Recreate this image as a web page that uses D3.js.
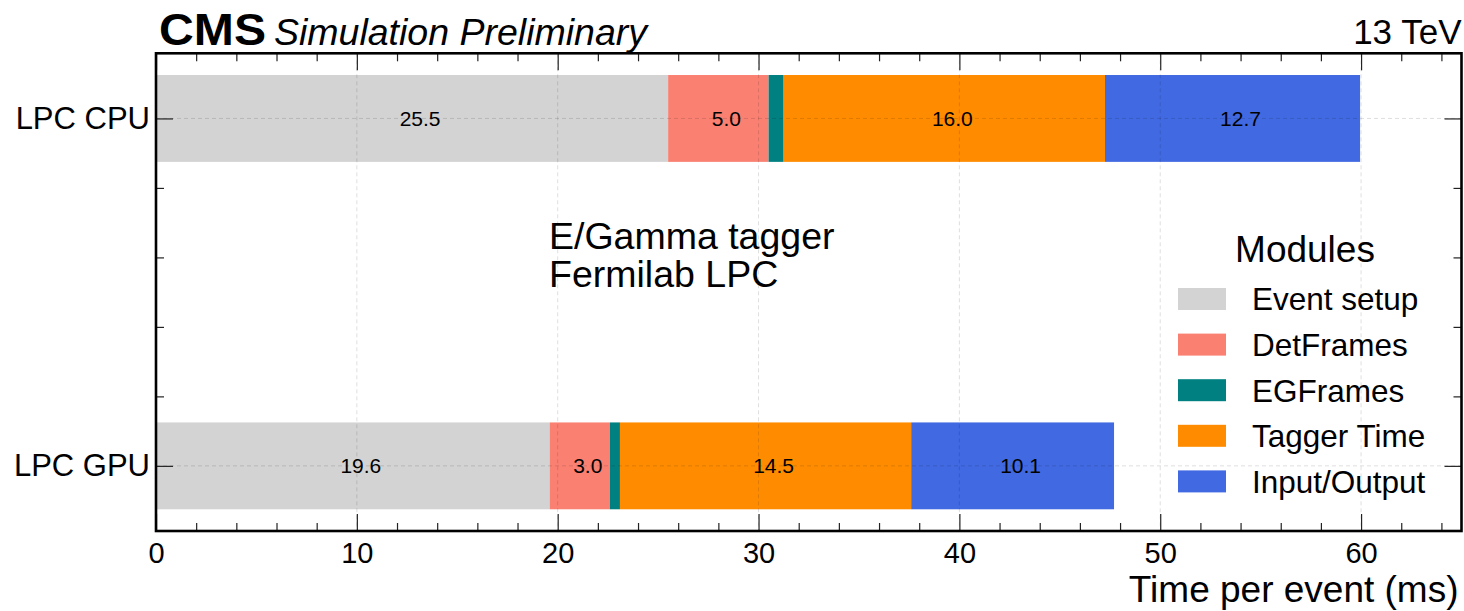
<!DOCTYPE html>
<html>
<head>
<meta charset="utf-8">
<script src="https://cdn.jsdelivr.net/npm/d3@7"></script>
<style>
  html, body { margin: 0; padding: 0; background: #fff; }
  svg { display: block; font-family: "Liberation Sans", Arial, Helvetica, sans-serif; }
</style>
</head>
<body>
<svg id="chart" width="1464" height="611"></svg>
<script>
// ---- data ----
const categories = ["LPC CPU", "LPC GPU"];          // top to bottom
const modules = ["Event setup", "DetFrames", "EGFrames", "Tagger Time", "Input/Output"];
const cpuValues = [25.5, 5.0, 0.75, 16.0, 12.7];
const gpuValues = [19.6, 3.0, 0.5, 14.5, 10.1];
const moduleColors = ["#d3d3d3", "#fa8072", "#008080", "#ff8c00", "#4169e1"];
const xMajorTicks = [0, 10, 20, 30, 40, 50, 60];
const xMinorTicks = d3.range(0, 66, 2);
const yMinorTicks = [0.2, 0.4, 0.6, 0.8];
const xTitle = "Time per event (ms)";
const annotation = ["E/Gamma tagger", "Fermilab LPC"];
const legendTitle = "Modules";

// ---- layout ----
const W = 1464, H = 611;
const m = { left: 156, right: 1461.5, top: 53.3, bottom: 531 };
const svg = d3.select("#chart");

const x = d3.scaleLinear().domain([0, 65]).range([m.left, m.right]);
// category position: bottom category at 0, top at 1 (matplotlib barh order)
const catPos = c => categories.length - 1 - categories.indexOf(c);
const y = d3.scaleLinear().domain([-0.1875, 1.1875]).range([m.bottom, m.top]);
const barH = 0.25;

const series = [
  { cat: "LPC CPU", values: cpuValues },
  { cat: "LPC GPU", values: gpuValues }
];

// ---- bars ----
const gBars = svg.append("g");
series.forEach(s => {
  let acc = 0;
  const segs = s.values.map((v, i) => { const seg = { x0: acc, x1: acc + v, v, i }; acc += v; return seg; });
  const p = catPos(s.cat);
  gBars.selectAll(null).data(segs).enter().append("rect")
    .attr("x", d => x(d.x0))
    .attr("width", d => x(d.x1) - x(d.x0))
    .attr("y", y(p + barH / 2))
    .attr("height", y(p - barH / 2) - y(p + barH / 2))
    .attr("fill", d => moduleColors[d.i]);
  gBars.selectAll(null).data(segs.filter(d => d.v >= 1)).enter().append("text")
    .attr("x", d => x((d.x0 + d.x1) / 2))
    .attr("dx", 8)
    .attr("y", y(p))
    .attr("dy", "0.35em")
    .attr("text-anchor", "middle")
    .attr("font-size", 21)
    .attr("fill", "#000")
    .text(d => d.v.toFixed(1));
});

// ---- grid (on top, faint dashed) ----
const gGrid = svg.append("g").attr("stroke", "#000").attr("stroke-opacity", 0.13)
  .attr("stroke-width", 1).attr("stroke-dasharray", "4,3");
gGrid.selectAll(null).data(xMajorTicks.filter(t => t > 0)).enter().append("line")
  .attr("x1", d => x(d)).attr("x2", d => x(d)).attr("y1", m.top).attr("y2", m.bottom);
gGrid.selectAll(null).data(categories).enter().append("line")
  .attr("x1", m.left).attr("x2", m.right).attr("y1", d => y(catPos(d))).attr("y2", d => y(catPos(d)));

// ---- axes ----
const MAJ = 17, MIN = 8;
function styleAxis(g) {
  g.select(".domain").remove();
  g.selectAll(".tick line").attr("stroke", "#222").attr("stroke-width", 1.2);
  g.selectAll(".tick text").attr("fill", "#000");
}
// bottom
svg.append("g").attr("transform", `translate(0,${m.bottom})`)
  .call(d3.axisBottom(x).tickValues(xMajorTicks).tickFormat(d3.format("d")).tickSize(-MAJ).tickPadding(11))
  .call(styleAxis).call(g => g.selectAll(".tick text").attr("font-size", 29));
svg.append("g").attr("transform", `translate(0,${m.bottom})`)
  .call(d3.axisBottom(x).tickValues(xMinorTicks.filter(t => t % 10 !== 0)).tickFormat("").tickSize(-MIN))
  .call(styleAxis);
// top
svg.append("g").attr("transform", `translate(0,${m.top})`)
  .call(d3.axisTop(x).tickValues(xMajorTicks).tickFormat("").tickSize(-MAJ))
  .call(styleAxis);
svg.append("g").attr("transform", `translate(0,${m.top})`)
  .call(d3.axisTop(x).tickValues(xMinorTicks.filter(t => t % 10 !== 0)).tickFormat("").tickSize(-MIN))
  .call(styleAxis);
// left
svg.append("g").attr("transform", `translate(${m.left},0)`)
  .call(d3.axisLeft(y).tickValues(categories.map(catPos))
    .tickFormat(p => categories[categories.length - 1 - p]).tickSize(-MAJ).tickPadding(6))
  .call(styleAxis).call(g => g.selectAll(".tick text").attr("font-size", 31));
svg.append("g").attr("transform", `translate(${m.left},0)`)
  .call(d3.axisLeft(y).tickValues(yMinorTicks).tickFormat("").tickSize(-MIN))
  .call(styleAxis);
// right
svg.append("g").attr("transform", `translate(${m.right},0)`)
  .call(d3.axisRight(y).tickValues(categories.map(catPos)).tickFormat("").tickSize(-MAJ))
  .call(styleAxis);
svg.append("g").attr("transform", `translate(${m.right},0)`)
  .call(d3.axisRight(y).tickValues(yMinorTicks).tickFormat("").tickSize(-MIN))
  .call(styleAxis);

// frame
svg.append("rect").attr("x", m.left).attr("y", m.top)
  .attr("width", m.right - m.left).attr("height", m.bottom - m.top)
  .attr("fill", "none").attr("stroke", "#000").attr("stroke-width", 2.6);

// ---- texts ----
svg.append("text").attr("x", m.right - 3).attr("y", 602).attr("text-anchor", "end")
  .attr("font-size", 37).text(xTitle);

svg.append("text").attr("x", 159).attr("y", 45).attr("font-size", 45).attr("font-weight", "bold")
  .attr("textLength", 107).attr("lengthAdjust", "spacingAndGlyphs").text("CMS");
svg.append("text").attr("x", 274).attr("y", 45).attr("font-size", 37.5).attr("font-style", "italic")
  .text("Simulation Preliminary");
svg.append("text").attr("x", m.right).attr("y", 44).attr("text-anchor", "end")
  .attr("font-size", 35).text("13 TeV");

svg.append("g").selectAll("text").data(annotation).enter().append("text")
  .attr("x", 549).attr("y", (d, i) => 249 + i * 38).attr("font-size", 37.5).text(d => d);

// ---- legend ----
const lg = svg.append("g");
lg.append("text").attr("x", 1305).attr("y", 262).attr("text-anchor", "middle")
  .attr("font-size", 37).text(legendTitle);
const rowY = i => 299 + i * 45.6;
lg.selectAll("rect").data(modules).enter().append("rect")
  .attr("x", 1178).attr("y", (d, i) => rowY(i) - 11).attr("width", 48).attr("height", 22)
  .attr("fill", (d, i) => moduleColors[i]);
lg.selectAll("text.item").data(modules).enter().append("text").attr("class", "item")
  .attr("x", 1252).attr("y", (d, i) => rowY(i)).attr("dy", "0.36em")
  .attr("font-size", 31.5).text(d => d);
</script>
</body>
</html>
